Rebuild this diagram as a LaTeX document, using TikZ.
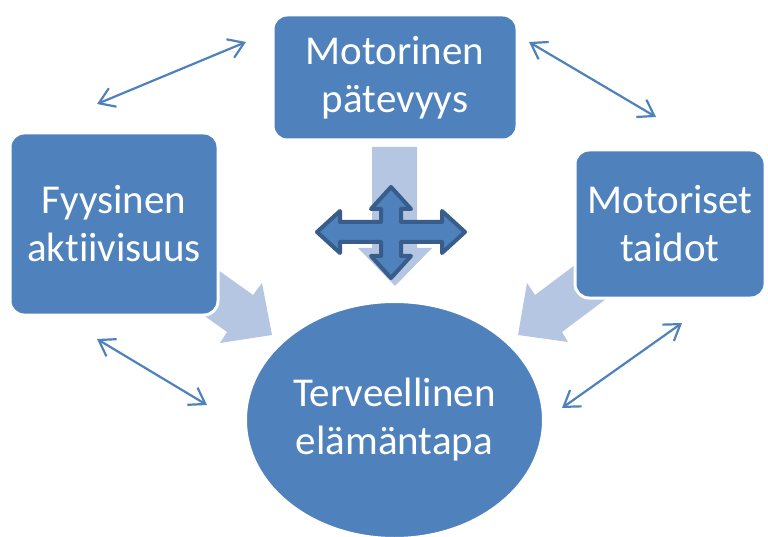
\documentclass[tikz,border=0pt]{standalone}
\usepackage{fontspec}
\setmainfont{Carlito}[Ligatures=NoCommon]
\usetikzlibrary{arrows.meta,shapes.geometric}
\definecolor{boxblue}{RGB}{79,129,189}
\definecolor{lightblue}{RGB}{180,198,226}
\definecolor{darkblue}{RGB}{56,93,138}
\tikzset{
  mainbox/.style={draw=white, line width=3pt, fill=boxblue, rounded corners=14pt,
    text=white, align=center, inner sep=0pt, font=\fontsize{41}{48}\selectfont},
  mainoval/.style={ellipse, draw=white, line width=2pt, fill=boxblue,
    text=white, align=center, inner sep=0pt, font=\fontsize{41}{48}\selectfont},
  blockarrow/.style={fill=lightblue, draw=none},
  crossarrow/.style={fill=boxblue, draw=darkblue, line width=4pt, line join=round},
  linkarrow/.style={draw=boxblue, line width=2.2pt,
    {Straight Barb[length=15pt,width=20pt,line width=2.2pt]}-{Straight Barb[length=15pt,width=20pt,line width=2.2pt]}}
}
\begin{document}
\begin{tikzpicture}[x=1pt,y=-1pt]
\useasboundingbox (0,0) rectangle (768,537);
\clip (0,0) rectangle (768,537);
% light block arrows
\draw[blockarrow] (372,147) -- (417,147) -- (417,248) -- (432,248) -- (395,286) -- (358,248) -- (372,248) -- cycle;
\draw[blockarrow] (204,260) -- (253,295) -- (262,283) -- (272,335) -- (220,343) -- (227,332) -- (178,297) -- cycle;
\draw[blockarrow] (599,247) -- (535,295) -- (527,283) -- (518,335) -- (568,342) -- (562,332) -- (626,284) -- cycle;
% boxes
\node[mainbox, minimum width=244pt, minimum height=125pt] (top) at (395,77.5) {Motorinen\\pätevyys};
\node[mainbox, minimum width=208pt, minimum height=182pt] (left) at (114,224) {Fyysinen\\akt\kern0pt iivisuus};
\node[mainbox, minimum width=190pt, minimum height=148pt] (right) at (670,224) {Motoriset\\taidot};
\node[mainoval, minimum width=297pt, minimum height=236pt] (center) at (394.5,420) {Terveellinen\\elämäntapa};
% cross arrow
\draw[crossarrow] (391,187) -- (411,209) -- (401,209) -- (401,222) -- (442,222) -- (442,211) -- (465,232) -- (442,253) -- (442,242) -- (401,242) -- (401,256) -- (411,256) -- (391,278) -- (371,256) -- (381,256) -- (381,242) -- (340,242) -- (340,253) -- (317,232) -- (340,211) -- (340,222) -- (381,222) -- (381,209) -- (371,209) -- cycle;
% link arrows
\coordinate (tl1) at (97,104); \coordinate (tl2) at (246,42);
\coordinate (tr1) at (529,42); \coordinate (tr2) at (656,117);
\coordinate (bl1) at (97,339); \coordinate (bl2) at (207,405);
\coordinate (br1) at (682,323); \coordinate (br2) at (562,408);
\draw[linkarrow] (tl1) -- (tl2);
\draw[linkarrow] (tr1) -- (tr2);
\draw[linkarrow] (bl1) -- (bl2);
\draw[linkarrow] (br1) -- (br2);
\end{tikzpicture}
\end{document}
